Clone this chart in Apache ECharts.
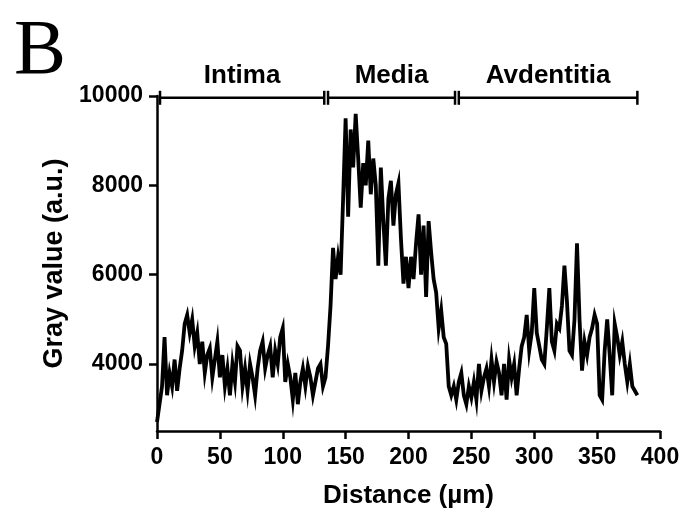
<!DOCTYPE html>
<html>
<head>
<meta charset="utf-8">
<script src="https://cdn.jsdelivr.net/npm/echarts@6/dist/echarts.min.js"></script>
<style>
  html, body { margin: 0; padding: 0; background: #fff; }
  #chart { width: 686px; height: 514px; }
</style>
</head>
<body>
<div id="chart"></div>
<script>
// distance along the profile (µm)
const distance = [
  0, 2, 4, 6, 8, 10, 12, 14, 16, 18, 20, 22, 24, 26, 28, 30, 32, 34, 36, 38,
  40, 42, 44, 46, 48, 50, 52, 54, 56, 58, 60, 62, 64, 66, 68, 70, 72, 74, 76, 78,
  80, 82, 84, 86, 88, 90, 92, 94, 96, 98, 100, 102, 104, 106, 108, 110, 112, 114, 116, 118,
  120, 122, 124, 126, 128, 130, 132, 134, 136, 138, 140, 142, 144, 146, 148, 150, 152, 154, 156, 158,
  160, 162, 164, 166, 168, 170, 172, 174, 176, 178, 180, 182, 184, 186, 188, 190, 192, 194, 196, 198,
  200, 202, 204, 206, 208, 210, 212, 214, 216, 218, 220, 222, 224, 226, 228, 230, 232, 234, 236, 238,
  240, 242, 244, 246, 248, 250, 252, 254, 256, 258, 260, 262, 264, 266, 268, 270, 272, 274, 276, 278,
  280, 282, 284, 286, 288, 290, 292, 294, 296, 298, 300, 302, 304, 306, 308, 310, 312, 314, 316, 318,
  320, 322, 324, 326, 328, 330, 332, 334, 336, 338, 340, 342, 344, 346, 348, 350, 352, 354, 356, 358,
  360, 362, 364, 366, 368, 370, 372, 374, 376, 378, 380, 382
];

// gray value (a.u.)
const grayValue = [
  2700, 3100, 3500, 4600, 3300, 3800, 3500, 4100, 3400, 3900, 4300, 4900, 5100, 4700, 5000, 4400, 4700, 4000, 4500, 3800,
  4200, 4350, 3700, 4100, 4500, 3700, 4200, 3500, 3900, 3300, 4000, 3600, 4400, 4300, 3500, 3900, 3400, 4000, 3700, 3300,
  3900, 4300, 4500, 3900, 4200, 4400, 3700, 4300, 4000, 4600, 4800, 3600, 4000, 3700, 3200, 3800, 3100, 3600, 3900, 3500,
  3950, 3700, 3300, 3600, 3900, 4000, 3500, 3700, 4400, 5300, 6600, 5900, 6400, 6000, 7700, 9500, 7300, 9250, 8400, 9600,
  8600, 7500, 8500, 8000, 9000, 7800, 8600, 8000, 6200, 8400, 7200, 6200, 7700, 8100, 7100, 7800, 8050, 6800, 5800, 6400,
  5700, 6400, 5900, 6700, 7350, 6000, 7100, 5500, 7200, 6500, 5900, 5600, 4800, 5200, 4600, 4450, 3500, 3300, 3500, 3200,
  3600, 3800, 3300, 3100, 3500, 3250, 3600, 3200, 4000, 3400, 3700, 3900, 3500, 4100, 3600, 4050, 3800, 3300, 4000, 3200,
  4100, 3700, 4000, 3300, 3900, 4400, 4600, 5100, 4300, 4700, 5700, 4700, 4400, 4100, 4000, 4800, 5700, 4500, 4300, 4900,
  4800, 5300, 6200, 5400, 4300, 4200, 5000, 6700, 5000, 3850, 4500, 4200, 4600, 4800, 5100, 4900, 3300, 3200, 4300, 5000,
  4200, 3300, 4900, 4600, 4200, 4500, 4000, 3600, 4000, 3500, 3400, 3300
];

// tissue layers marked above the plot
const regionNames = ['Intima', 'Media', 'Avdentitia'];
const regionStart = [2.4, 136, 240];
const regionEnd = [133, 237, 382];
const regionLevel = 9960;

const yTicks = [4000, 6000, 8000, 10000];

const chart = echarts.init(document.getElementById('chart'));

const font = 'Liberation Sans, Arial, sans-serif';

const option = {
  animation: false,
  backgroundColor: '#fff',
  graphic: [{
    type: 'text',
    left: 14,
    top: 14,
    style: {
      text: 'B',
      fontFamily: 'Liberation Serif, Times New Roman, serif',
      fontSize: 78,
      fill: '#000'
    }
  }],
  grid: {
    left: 157,
    right: 26,
    top: 96,
    bottom: 82
  },
  xAxis: {
    type: 'value',
    min: 0,
    max: 400,
    interval: 50,
    name: 'Distance (µm)',
    nameLocation: 'middle',
    nameGap: 52,
    nameTextStyle: { color: '#000', fontFamily: font, fontWeight: 'bold', fontSize: 26 },
    axisLine: { lineStyle: { color: '#000', width: 2.5 } },
    axisTick: { length: 8, lineStyle: { color: '#000', width: 2.5 } },
    axisLabel: { color: '#000', fontFamily: font, fontWeight: 'bold', fontSize: 23, margin: 15 },
    splitLine: { show: false }
  },
  yAxis: {
    type: 'value',
    min: 2500,
    max: 10000,
    name: 'Gray value (a.u.)',
    nameLocation: 'middle',
    nameGap: 88,
    nameTextStyle: { color: '#000', fontFamily: font, fontWeight: 'bold', fontSize: 27 },
    axisLine: { show: true, lineStyle: { color: '#000', width: 2.5 } },
    axisTick: { show: true, length: 8, customValues: yTicks, lineStyle: { color: '#000', width: 2.5 } },
    axisLabel: {
      color: '#000', fontFamily: font, fontWeight: 'bold', fontSize: 23, margin: 14,
      customValues: yTicks,
      formatter: v => String(v)
    },
    splitLine: { show: false }
  },
  series: [
    {
      type: 'line',
      data: distance.map((d, i) => [d, grayValue[i]]),
      showSymbol: false,
      lineStyle: { color: '#000', width: 3.8, join: 'miter' },
      z: 3
    },
    {
      type: 'custom',
      clip: false,
      data: regionNames.map((n, i) => [regionStart[i], regionEnd[i], regionLevel, n]),
      encode: { x: [0, 1], y: 2 },
      renderItem: function (params, api) {
        const a = api.coord([api.value(0), api.value(2)]);
        const b = api.coord([api.value(1), api.value(2)]);
        const h = 7;
        const st = { stroke: '#000', lineWidth: 2.5 };
        return {
          type: 'group',
          children: [
            { type: 'line', shape: { x1: a[0], y1: a[1], x2: b[0], y2: b[1] }, style: st },
            { type: 'line', shape: { x1: a[0], y1: a[1] - h, x2: a[0], y2: a[1] + h }, style: st },
            { type: 'line', shape: { x1: b[0], y1: b[1] - h, x2: b[0], y2: b[1] + h }, style: st },
            {
              type: 'text',
              x: (a[0] + b[0]) / 2,
              y: a[1] - 22,
              style: {
                text: regionNames[params.dataIndex],
                fontFamily: font,
                fontWeight: 'bold',
                fontSize: 26,
                fill: '#000',
                align: 'center',
                verticalAlign: 'middle'
              }
            }
          ]
        };
      }
    }
  ]
};

chart.setOption(option);
</script>
</body>
</html>
